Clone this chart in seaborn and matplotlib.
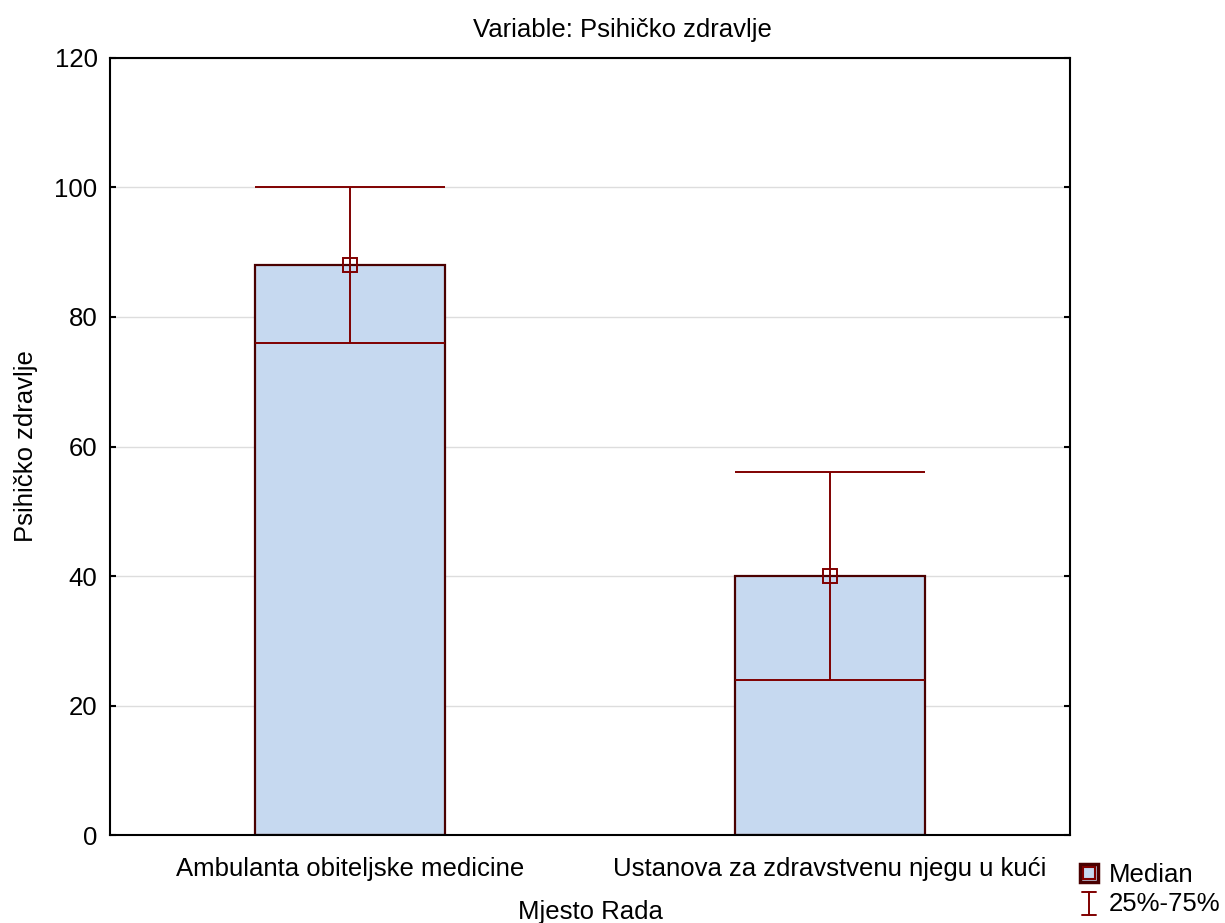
import pandas as pd
import numpy as np
import matplotlib.pyplot as plt
import seaborn as sns
from matplotlib.lines import Line2D
from matplotlib.patches import Patch
from matplotlib.legend_handler import HandlerBase

# data
categories = ['Ambulanta obiteljske medicine', 'Ustanova za zdravstvenu njegu u kući']
medians = [88, 40]
q25 = [76, 24]
q75 = [100, 56]

df = pd.DataFrame({'Mjesto Rada': categories, 'Psihičko zdravlje': medians})

sns.set_style('white')
plt.rcParams['font.family'] = ['Liberation Sans', 'DejaVu Sans']
plt.rcParams['text.color'] = 'black'
plt.rcParams['axes.labelcolor'] = 'black'

fig = plt.figure(figsize=(12.25, 9.23), dpi=100)
ax = fig.add_axes([0.0898, 0.0953, 0.7837, 0.8419])

bar_w = 0.394
red = '#800000'
sns.barplot(data=df, x='Mjesto Rada', y='Psihičko zdravlje', color='#c6d9f0',
            edgecolor='#4a0000', linewidth=1.6, width=bar_w, saturation=1,
            errorbar=None, ax=ax, zorder=2)

# 25%-75% range
xs = np.arange(len(categories))
ax.vlines(xs, q25, q75, color=red, lw=1.4, zorder=3)
ax.hlines(q25, xs - bar_w / 2, xs + bar_w / 2, color=red, lw=1.4, zorder=3)
ax.hlines(q75, xs - bar_w / 2, xs + bar_w / 2, color=red, lw=1.4, zorder=3)
ax.plot(xs, medians, ls='none', marker='s', ms=10, mfc='none', mec=red, mew=1.4, zorder=4)

ax.set_xlim(-0.5, 1.5)
ax.set_ylim(0, 120)
ax.set_yticks(range(0, 121, 20))
ax.yaxis.grid(True, color='#dddddd', lw=1)
ax.set_axisbelow(True)
for s in ax.spines.values():
    s.set_color('black')
    s.set_linewidth(1.5)
ax.tick_params(axis='y', left=True, right=True, direction='in', length=4, width=1.5,
               labelsize=18.5, colors='black', pad=9)
ax.tick_params(axis='x', bottom=False, labelsize=18.5, colors='black', pad=12)
fig.suptitle('Variable: Psihičko zdravlje', fontsize=18.5, x=0.508, y=0.98, va='top')
ax.set_xlabel('Mjesto Rada', fontsize=18.5, labelpad=14)
ax.set_ylabel('Psihičko zdravlje', fontsize=18.5, labelpad=12)


class ErrHandler(HandlerBase):
    def create_artists(self, legend, orig, xd, yd, w, h, fs, trans):
        cx = xd + w / 2
        l1 = Line2D([cx, cx], [yd - 0.2 * h, yd + 1.1 * h], color=red, lw=1.4, transform=trans)
        l2 = Line2D([cx - 0.4 * w, cx + 0.4 * w], [yd - 0.2 * h] * 2, color=red, lw=1.4, transform=trans)
        l3 = Line2D([cx - 0.4 * w, cx + 0.4 * w], [yd + 1.1 * h] * 2, color=red, lw=1.4, transform=trans)
        return [l1, l2, l3]


class BoxHandler(HandlerBase):
    def create_artists(self, legend, orig, xd, yd, w, h, fs, trans):
        cx = xd + w / 2
        s = 1.0 * h
        p = plt.Rectangle((cx - s / 2, yd + h / 2 - s / 2), s, s, fc='#c6d9f0', ec='#4a0000', lw=2.5, transform=trans)
        m = Line2D([cx], [yd + h / 2], marker='s', ms=8, mfc='none', mec=red, mew=1.5, transform=trans)
        return [p, m]


h1 = Patch()
h2 = Line2D([], [])
fig.legend([h1, h2], ['Median', '25%-75%'], handler_map={Patch: BoxHandler(), Line2D: ErrHandler()},
           loc='lower left', bbox_to_anchor=(0.865, -0.015), frameon=False, fontsize=18.5,
           handlelength=0.7, handletextpad=0.4, labelspacing=0.2, borderpad=0.3)

plt.savefig('out.png', dpi=100)
